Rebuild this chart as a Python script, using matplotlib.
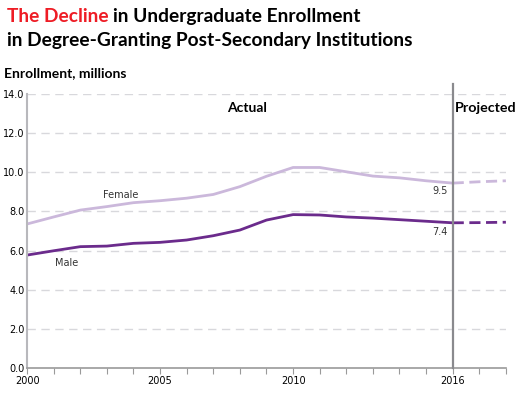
import matplotlib
matplotlib.use("Agg")
import matplotlib.pyplot as plt

years = list(range(2000, 2019))
female = [7.36, 7.72, 8.07, 8.25, 8.45, 8.55, 8.68, 8.87, 9.27, 9.8, 10.25, 10.25, 10.03, 9.81, 9.72, 9.57, 9.45, 9.52, 9.57]
male = [5.77, 5.99, 6.2, 6.23, 6.37, 6.42, 6.54, 6.76, 7.05, 7.56, 7.84, 7.82, 7.72, 7.66, 7.58, 7.5, 7.42, 7.43, 7.45]
split_year = 2016
yticks = [0, 2, 4, 6, 8, 10, 12, 14]
xticks_labeled = [2000, 2005, 2010, 2016]

fcol = "#cbb8db"
mcol = "#6b2b8c"
grey = "#9a9a9a"

fig = plt.figure(figsize=(5.21, 3.99), dpi=100)
ax = fig.add_axes([0.052, 0.078, 0.919, 0.686])

i = years.index(split_year)
ax.plot(years[:i + 1], female[:i + 1], color=fcol, lw=2.0, solid_capstyle="round")
ax.plot(years[i:], female[i:], color=fcol, lw=2.0, ls=(0, (4, 2)))
ax.plot(years[:i + 1], male[:i + 1], color=mcol, lw=2.0, solid_capstyle="round")
ax.plot(years[i:], male[i:], color=mcol, lw=2.0, ls=(0, (4, 2)))

ax.set_xlim(2000, 2018)
ax.set_ylim(0, 14)
ax.set_yticks(yticks)
ax.set_yticklabels([f"{v:.1f}" for v in yticks], fontsize=7, fontfamily="DejaVu Sans")
ax.set_xticks(years)
ax.set_xticklabels([str(y) if y in xticks_labeled else "" for y in years], fontsize=7, fontfamily="DejaVu Sans")
ax.tick_params(axis="x", direction="out", length=4, color=grey, pad=2)
ax.tick_params(axis="y", length=0, pad=2)

for v in yticks[1:]:
    ax.axhline(v, color="#d8d8dc", lw=1, ls=(0, (6, 4)), zorder=0)

for s in ["top", "right"]:
    ax.spines[s].set_visible(False)
ax.spines["left"].set_color("#b8b8bc")
ax.spines["left"].set_linewidth(1.5)
ax.spines["bottom"].set_color(grey)
ax.spines["bottom"].set_linewidth(1.2)

ax.plot([split_year, split_year], [0, 14.5], color="#8a8a8e", lw=1.6, clip_on=False, zorder=3)

ax.text(2008.25, 13.3, "Actual", fontsize=10, fontweight="bold", fontfamily="Lato", ha="center", va="center")
ax.text(2016.1, 13.3, "Projected", fontsize=10.3, fontweight="bold", fontfamily="Lato", ha="left", va="center")
ax.text(2003.5, 8.85, "Female", fontsize=7, color="#333333", ha="center", va="center")
ax.text(2001.5, 5.37, "Male", fontsize=7, color="#333333", ha="center", va="center")
ax.text(2015.8, 9.05, "9.5", fontsize=7, color="#333333", ha="right", va="center")
ax.text(2015.8, 6.97, "7.4", fontsize=7, color="#333333", ha="right", va="center")

tfont = dict(fontsize=13.8, fontweight="bold", fontfamily="Lato", va="baseline")
t1 = fig.text(0.013, 0.945, "The Decline", color="#ee1c25", ha="left", **tfont)
fig.canvas.draw()
bb = t1.get_window_extent()
x2 = (bb.x1 + 4.5) / fig.bbox.width
fig.text(x2, 0.945, "in Undergraduate Enrollment", color="black", ha="left", **tfont)
fig.text(0.013, 0.884, "in Degree-Granting Post-Secondary Institutions", color="black", ha="left", **tfont)
fig.text(0.008, 0.808, "Enrollment, millions", fontsize=10, fontweight="bold", fontfamily="Lato", color="black", ha="left", va="baseline")

fig.savefig("out.png", dpi=100)
